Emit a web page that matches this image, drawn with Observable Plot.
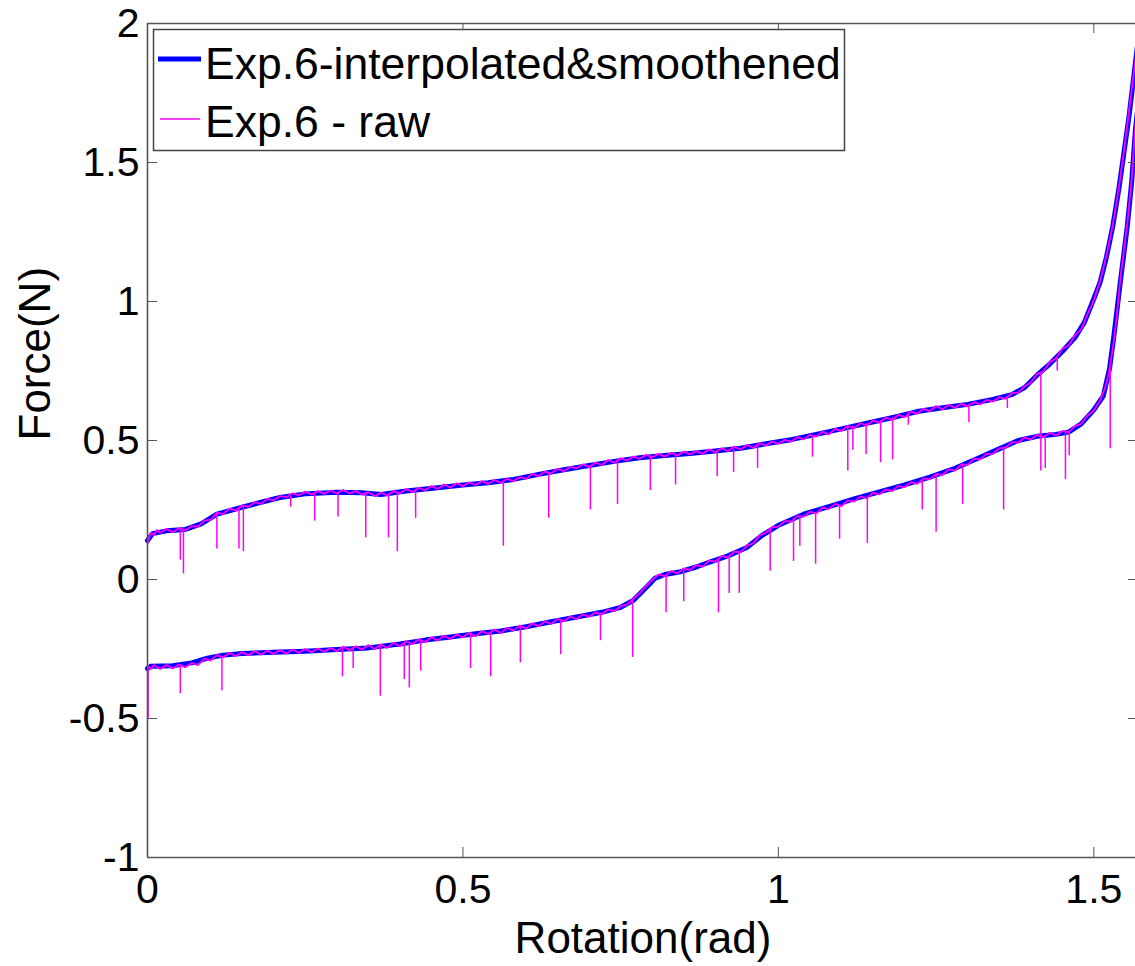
<!DOCTYPE html>
<html>
<head>
<meta charset="utf-8">
<script src="https://cdn.jsdelivr.net/npm/d3@7"></script>
<script src="https://cdn.jsdelivr.net/npm/@observablehq/plot@0.6"></script>
<style>
  html, body { margin: 0; padding: 0; background: #fff; overflow: hidden; }
  #chart { position: relative; width: 1135px; height: 966px; }
</style>
</head>
<body>
<div id="chart"></div>
<script>
// ---- axes / ticks ----
const xDomain = [0, 1.5708];
const yDomain = [-1, 2];
const xTicks = [0, 0.5, 1, 1.5];
const xTickLabels = ["0", "0.5", "1", "1.5"];
const yTicks = [-1, -0.5, 0, 0.5, 1, 1.5, 2];
const yTickLabels = ["-1", "-0.5", "0", "0.5", "1", "1.5", "2"];
const xLabel = "Rotation(rad)";
const yLabel = "Force(N)";
const seriesNames = ["Exp.6-interpolated&smoothened", "Exp.6 - raw"];

// ---- smoothed (interpolated & smoothened) branches ----
const smoothUpper = [
  [0.000,0.140],[0.008,0.165],[0.030,0.175],[0.060,0.180],[0.085,0.200],[0.110,0.235],
  [0.150,0.260],[0.180,0.278],[0.210,0.295],[0.250,0.308],[0.300,0.314],[0.340,0.312],
  [0.370,0.306],[0.410,0.318],[0.460,0.330],[0.500,0.340],[0.540,0.348],[0.580,0.360],
  [0.620,0.378],[0.660,0.395],[0.700,0.410],[0.740,0.425],[0.780,0.438],[0.820,0.446],
  [0.860,0.453],[0.900,0.462],[0.940,0.472],[0.980,0.488],[1.020,0.503],[1.060,0.522],
  [1.100,0.542],[1.140,0.562],[1.180,0.582],[1.220,0.604],[1.260,0.618],[1.300,0.630],
  [1.340,0.648],[1.370,0.665],[1.390,0.690],[1.410,0.735],[1.430,0.775],[1.450,0.820],
  [1.470,0.870],[1.485,0.925],[1.500,1.010],[1.510,1.070],[1.520,1.160],[1.530,1.270],
  [1.540,1.410],[1.548,1.540],[1.556,1.670],[1.566,1.860],[1.5708,1.950]
];
const smoothLower = [
  [0.000,-0.320],[0.005,-0.312],[0.040,-0.310],[0.070,-0.300],[0.095,-0.283],[0.120,-0.272],
  [0.150,-0.266],[0.200,-0.262],[0.250,-0.258],[0.300,-0.252],[0.350,-0.246],[0.400,-0.232],
  [0.440,-0.218],[0.480,-0.207],[0.520,-0.195],[0.560,-0.185],[0.600,-0.170],[0.640,-0.152],
  [0.680,-0.135],[0.720,-0.118],[0.750,-0.100],[0.770,-0.075],[0.790,-0.030],[0.805,0.005],
  [0.820,0.018],[0.845,0.028],[0.870,0.045],[0.890,0.062],[0.920,0.085],[0.950,0.115],
  [0.975,0.160],[1.000,0.195],[1.040,0.235],[1.080,0.262],[1.120,0.290],[1.160,0.315],
  [1.200,0.340],[1.240,0.368],[1.280,0.400],[1.320,0.440],[1.350,0.470],[1.380,0.500],
  [1.410,0.515],[1.440,0.522],[1.460,0.530],[1.480,0.560],[1.500,0.610],[1.515,0.660],
  [1.525,0.760],[1.532,0.880],[1.542,1.070],[1.553,1.270],[1.560,1.430],[1.566,1.620],
  [1.5708,1.720]
];

// ---- raw branches: noisy trace ----
const rawUpper = [
  [0.000,0.130],[0.005,0.168],[0.010,0.160],[0.015,0.178],[0.020,0.168],[0.030,0.182],
  [0.040,0.170],[0.050,0.185],[0.060,0.176],[0.070,0.192],[0.080,0.190],[0.090,0.212],
  [0.100,0.215],[0.110,0.240],[0.120,0.236],[0.130,0.255],[0.140,0.248],[0.150,0.266],
  [0.160,0.262],[0.170,0.278],[0.180,0.272],[0.190,0.290],[0.200,0.285],[0.210,0.300],
  [0.220,0.296],[0.230,0.310],[0.240,0.303],[0.250,0.316],[0.260,0.306],[0.270,0.318],
  [0.280,0.308],[0.290,0.320],[0.300,0.310],[0.310,0.322],[0.320,0.310],[0.330,0.318],
  [0.340,0.306],[0.350,0.314],[0.360,0.300],[0.370,0.312],[0.380,0.302],[0.390,0.318],
  [0.400,0.310],[0.410,0.325],[0.420,0.315],[0.430,0.330],[0.440,0.320],[0.450,0.336],
  [0.460,0.326],[0.470,0.342],[0.480,0.330],[0.490,0.346],[0.500,0.335],[0.510,0.350],
  [0.520,0.340],[0.530,0.354],[0.540,0.344],[0.550,0.358],[0.560,0.348],[0.570,0.362],
  [0.580,0.354],[0.590,0.368],[0.600,0.362],[0.610,0.380],[0.620,0.372],[0.630,0.388],
  [0.640,0.382],[0.650,0.398],[0.660,0.390],[0.670,0.405],[0.680,0.400],[0.690,0.414],
  [0.700,0.405],[0.710,0.420],[0.720,0.412],[0.730,0.430],[0.740,0.420],[0.750,0.436],
  [0.760,0.428],[0.770,0.442],[0.780,0.434],[0.790,0.448],[0.800,0.440],[0.810,0.452],
  [0.820,0.442],[0.830,0.456],[0.840,0.446],[0.850,0.460],[0.860,0.450],[0.870,0.462],
  [0.880,0.452],[0.890,0.468],[0.900,0.458],[0.910,0.472],[0.920,0.462],[0.930,0.478],
  [0.940,0.468],[0.950,0.484],[0.960,0.474],[0.970,0.490],[0.980,0.482],[0.990,0.496],
  [1.000,0.488],[1.010,0.502],[1.020,0.496],[1.030,0.512],[1.040,0.504],[1.050,0.520],
  [1.060,0.514],[1.070,0.532],[1.080,0.522],[1.090,0.542],[1.100,0.534],[1.110,0.552],
  [1.120,0.544],[1.130,0.562],[1.140,0.554],[1.150,0.572],[1.160,0.564],[1.170,0.582],
  [1.180,0.574],[1.190,0.592],[1.200,0.584],[1.210,0.604],[1.220,0.596],[1.230,0.614],
  [1.240,0.606],[1.250,0.624],[1.260,0.612],[1.270,0.628],[1.280,0.618],[1.290,0.632],
  [1.300,0.622],[1.310,0.638],[1.320,0.630],[1.330,0.646],[1.340,0.640],[1.350,0.656],
  [1.360,0.650],[1.370,0.670],[1.380,0.672],[1.390,0.695],[1.400,0.708],[1.410,0.740],
  [1.420,0.748],[1.430,0.782],[1.440,0.795],[1.450,0.830],[1.460,0.842],[1.470,0.878],
  [1.480,0.900],[1.490,0.955],[1.500,1.005],[1.510,1.075],[1.520,1.165],[1.530,1.275],
  [1.540,1.415],[1.548,1.545],[1.556,1.690],[1.566,1.870],[1.5708,1.960]
];
const rawLower = [
  [0.000,-0.310],[0.005,-0.322],[0.010,-0.308],[0.020,-0.322],[0.030,-0.308],[0.040,-0.320],
  [0.050,-0.306],[0.060,-0.316],[0.070,-0.300],[0.080,-0.308],[0.090,-0.285],[0.100,-0.292],
  [0.110,-0.272],[0.120,-0.280],[0.130,-0.264],[0.140,-0.275],[0.150,-0.262],[0.160,-0.272],
  [0.170,-0.258],[0.180,-0.270],[0.190,-0.256],[0.200,-0.268],[0.210,-0.254],[0.220,-0.266],
  [0.230,-0.252],[0.240,-0.264],[0.250,-0.250],[0.260,-0.262],[0.270,-0.248],[0.280,-0.260],
  [0.290,-0.246],[0.300,-0.258],[0.310,-0.242],[0.320,-0.254],[0.330,-0.240],[0.340,-0.252],
  [0.350,-0.236],[0.360,-0.250],[0.370,-0.234],[0.380,-0.246],[0.390,-0.228],[0.400,-0.240],
  [0.410,-0.222],[0.420,-0.232],[0.430,-0.215],[0.440,-0.226],[0.450,-0.208],[0.460,-0.220],
  [0.470,-0.202],[0.480,-0.214],[0.490,-0.198],[0.500,-0.208],[0.510,-0.192],[0.520,-0.204],
  [0.530,-0.186],[0.540,-0.196],[0.550,-0.180],[0.560,-0.192],[0.570,-0.174],[0.580,-0.184],
  [0.590,-0.166],[0.600,-0.176],[0.610,-0.158],[0.620,-0.168],[0.630,-0.150],[0.640,-0.160],
  [0.650,-0.142],[0.660,-0.150],[0.670,-0.134],[0.680,-0.142],[0.690,-0.126],[0.700,-0.134],
  [0.710,-0.118],[0.720,-0.126],[0.730,-0.108],[0.740,-0.114],[0.750,-0.096],[0.760,-0.090],
  [0.770,-0.070],[0.780,-0.050],[0.790,-0.025],[0.800,-0.002],[0.810,0.018],[0.820,0.012],
  [0.830,0.030],[0.840,0.022],[0.850,0.040],[0.860,0.034],[0.870,0.052],[0.880,0.046],
  [0.890,0.068],[0.900,0.064],[0.910,0.085],[0.920,0.080],[0.930,0.100],[0.940,0.098],
  [0.950,0.122],[0.960,0.130],[0.970,0.158],[0.980,0.168],[0.990,0.188],[1.000,0.190],
  [1.010,0.210],[1.020,0.208],[1.030,0.228],[1.040,0.226],[1.050,0.244],[1.060,0.238],
  [1.070,0.258],[1.080,0.254],[1.090,0.272],[1.100,0.264],[1.110,0.284],[1.120,0.280],
  [1.130,0.298],[1.140,0.292],[1.150,0.312],[1.160,0.306],[1.170,0.324],[1.180,0.318],
  [1.190,0.336],[1.200,0.332],[1.210,0.350],[1.220,0.344],[1.230,0.364],[1.240,0.360],
  [1.250,0.380],[1.260,0.376],[1.270,0.396],[1.280,0.392],[1.290,0.414],[1.300,0.412],
  [1.310,0.434],[1.320,0.432],[1.330,0.452],[1.340,0.452],[1.350,0.472],[1.360,0.474],
  [1.370,0.494],[1.380,0.492],[1.390,0.510],[1.400,0.504],[1.410,0.520],[1.420,0.512],
  [1.430,0.528],[1.440,0.518],[1.450,0.534],[1.460,0.530],[1.470,0.552],[1.480,0.560],
  [1.490,0.590],[1.500,0.608],[1.510,0.645],[1.518,0.690],[1.524,0.745],[1.530,0.830],
  [1.535,0.920],[1.542,1.080],[1.553,1.280],[1.560,1.440],[1.566,1.640],[1.5708,1.730]
];

// ---- raw branches: downward spikes [x, from, to] ----
const spikesUpper = [
  [0.052,0.180,0.070],[0.057,0.180,0.020],[0.110,0.235,0.110],[0.145,0.258,0.110],
  [0.152,0.262,0.100],[0.227,0.300,0.260],[0.265,0.308,0.210],[0.302,0.314,0.225],
  [0.346,0.310,0.150],[0.382,0.308,0.150],[0.396,0.312,0.100],[0.425,0.322,0.220],
  [0.564,0.350,0.120],[0.636,0.385,0.220],[0.702,0.410,0.250],[0.745,0.428,0.270],
  [0.797,0.444,0.320],[0.837,0.450,0.340],[0.903,0.462,0.370],[0.929,0.470,0.385],
  [0.967,0.483,0.400],[1.054,0.518,0.440],[1.110,0.548,0.390],[1.118,0.552,0.465],
  [1.139,0.560,0.450],[1.162,0.572,0.420],[1.181,0.582,0.430],[1.206,0.600,0.555],
  [1.302,0.630,0.565],[1.363,0.660,0.615],[1.416,0.745,0.390],[1.442,0.800,0.750]
];
const spikesLower = [
  [0.001,-0.310,-0.500],[0.052,-0.312,-0.410],[0.118,-0.278,-0.400],[0.309,-0.250,-0.350],
  [0.326,-0.248,-0.320],[0.369,-0.240,-0.420],[0.407,-0.232,-0.360],[0.415,-0.228,-0.390],
  [0.433,-0.220,-0.330],[0.512,-0.198,-0.320],[0.544,-0.190,-0.350],[0.591,-0.172,-0.300],
  [0.655,-0.145,-0.270],[0.718,-0.120,-0.220],[0.769,-0.072,-0.280],[0.822,0.015,-0.120],
  [0.850,0.035,-0.080],[0.905,0.072,-0.120],[0.922,0.082,-0.050],[0.938,0.098,-0.050],
  [0.987,0.180,0.030],[1.024,0.220,0.065],[1.034,0.225,0.120],[1.059,0.240,0.055],
  [1.097,0.268,0.145],[1.141,0.295,0.130],[1.228,0.360,0.250],[1.250,0.378,0.170],
  [1.292,0.412,0.270],[1.357,0.472,0.250],[1.423,0.518,0.400],[1.455,0.530,0.360],
  [1.461,0.532,0.445],[1.526,0.760,0.470]
];

// ---- layout ----
const W = 1135, H = 966;
const mL = 147, mR = -3, mT = 23, mB = 109;
const plotW = W - mL - mR, plotH = H - mT - mB;
const tickLen = 10;
const frameColor = "#555";
const font = "'Liberation Sans', Arial, Helvetica, sans-serif";
const blue = "#0000ff", magenta = "#ff00ff";

const chart = Plot.plot({
  width: W, height: H,
  marginLeft: mL, marginRight: mR, marginTop: mT, marginBottom: mB,
  style: {fontFamily: font, background: "white", overflow: "visible"},
  x: {domain: xDomain, axis: null},
  y: {domain: yDomain, axis: null},
  marks: [
    // data
    Plot.line(smoothUpper, {x: d => d[0], y: d => d[1], stroke: blue, strokeWidth: 5}),
    Plot.line(smoothLower, {x: d => d[0], y: d => d[1], stroke: blue, strokeWidth: 5}),
    Plot.line(rawUpper, {x: d => d[0], y: d => d[1], stroke: magenta, strokeWidth: 1.8}),
    Plot.line(rawLower, {x: d => d[0], y: d => d[1], stroke: magenta, strokeWidth: 1.8}),
    Plot.ruleX(spikesUpper, {x: d => d[0], y1: d => d[1], y2: d => d[2], stroke: magenta, strokeWidth: 1.5}),
    Plot.ruleX(spikesLower, {x: d => d[0], y1: d => d[1], y2: d => d[2], stroke: magenta, strokeWidth: 1.5}),
    // frame
    Plot.ruleX([xDomain[0], xDomain[1]], {stroke: frameColor, strokeWidth: 1.6}),
    Plot.ruleY([yDomain[0], yDomain[1]], {stroke: frameColor, strokeWidth: 1.6}),
    // inward ticks
    Plot.ruleX(xTicks, {x: d => d, insetTop: plotH - tickLen, stroke: frameColor}),
    Plot.ruleX(xTicks, {x: d => d, insetBottom: plotH - tickLen, stroke: frameColor}),
    Plot.ruleY(yTicks, {y: d => d, insetRight: plotW - tickLen, stroke: frameColor}),
    Plot.ruleY(yTicks, {y: d => d, insetLeft: plotW - tickLen, stroke: frameColor}),
    // tick labels
    Plot.text(xTicks, {x: d => d, frameAnchor: "bottom", text: (d, i) => xTickLabels[i],
      lineAnchor: "top", dy: 16, fontSize: 41, fill: "black"}),
    Plot.text(yTicks, {y: d => d, frameAnchor: "left", text: (d, i) => yTickLabels[i],
      textAnchor: "end", lineAnchor: "middle", dx: -8, fontSize: 41, fill: "black"}),
    // axis labels
    Plot.text([xLabel], {frameAnchor: "bottom", text: d => d, lineAnchor: "top", dy: 64,
      fontSize: 44, fill: "black"}),
    Plot.text([yLabel], {frameAnchor: "left", text: d => d, rotate: -90, lineAnchor: "middle",
      dx: -112, fontSize: 44, fill: "black"})
  ]
});
document.getElementById("chart").appendChild(chart);

// ---- legend (drawn into the same svg) ----
const svg = d3.select(chart);
const lg = svg.append("g").attr("font-family", font).attr("text-anchor", "start");
lg.append("rect").attr("x", 153.5).attr("y", 29.5).attr("width", 691).attr("height", 121)
  .attr("fill", "white").attr("stroke", "#444").attr("stroke-width", 1.5);
lg.append("line").attr("x1", 158).attr("x2", 201).attr("y1", 59).attr("y2", 59)
  .attr("stroke", blue).attr("stroke-width", 5);
lg.append("text").attr("x", 205).attr("y", 79).attr("font-size", 44.5).attr("fill", "black")
  .attr("text-anchor", "start").text(seriesNames[0]);
lg.append("line").attr("x1", 160).attr("x2", 200).attr("y1", 119).attr("y2", 119)
  .attr("stroke", magenta).attr("stroke-width", 1.5);
lg.append("text").attr("x", 205).attr("y", 137).attr("font-size", 44.5).attr("fill", "black")
  .attr("text-anchor", "start").text(seriesNames[1]);
</script>
</body>
</html>
